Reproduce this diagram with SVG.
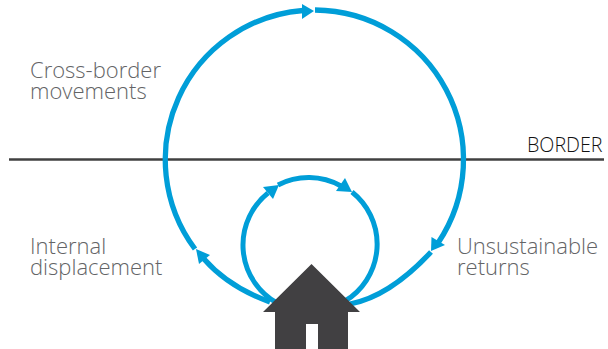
<svg xmlns="http://www.w3.org/2000/svg" width="608" height="349" viewBox="0 0 608 349">
<style>
.l{font-family:"Open Sans","Noto Sans",sans-serif;font-size:22px;font-weight:300;fill:#636466}
.b{font-family:"Open Sans","Noto Sans",sans-serif;font-size:19.700px;font-weight:300;fill:#111111}
.c{fill:none;stroke:#009ed8;stroke-width:5.300}
.s{fill:none;stroke:#009ed8;stroke-width:5}
.a{fill:#009ed8}
</style>
<line id="border" x1="9" y1="159.500" x2="604" y2="159.500" stroke="#404041" stroke-width="2.500"/>
<g id="connectors">
<path class="c" d="M195 249A149.500 149.500 0 0 1 303 10.500"/>
<path class="c" d="M315 10A149.500 149.500 0 0 1 438 243"/>
<path class="c" d="M204 259Q228.500 287 270 302"/>
<path class="c" d="M431 252Q389.500 296.500 350 304"/>
<path class="s" d="M277 303A66.500 66.500 0 0 1 268 193"/>
<path class="s" d="M278 185A66.500 66.500 0 0 1 341 186"/>
<path class="s" d="M352 192A66.500 66.500 0 0 1 345 301"/>
<polygon class="a" points="314,11 302,4 302,19"/>
<polygon class="a" points="196,249 210,255 199,264"/>
<polygon class="a" points="431,251 431.500,237 445,245"/>
<polygon class="a" points="279,185 263,187 273,199"/>
<polygon class="a" points="352,192 345,178 336,191"/>
</g>
<g id="house"><path fill="#414042" d="M311.500 264L360 312H348V349H318V324H306V349H275V312H263Z"/></g>
<g id="label-cross-border"><text class="l" x="30" y="78">Cross-border</text>
<text class="l" x="30" y="99">movements</text></g>
<g id="label-internal"><text class="l" x="30" y="254">Internal</text>
<text class="l" x="30" y="275">displacement</text></g>
<g id="label-returns"><text class="l" x="457" y="254">Unsustainable</text>
<text class="l" x="457" y="275">returns</text></g>
<text id="label-border" class="b" x="527" y="151.500">BORDER</text>
</svg>
